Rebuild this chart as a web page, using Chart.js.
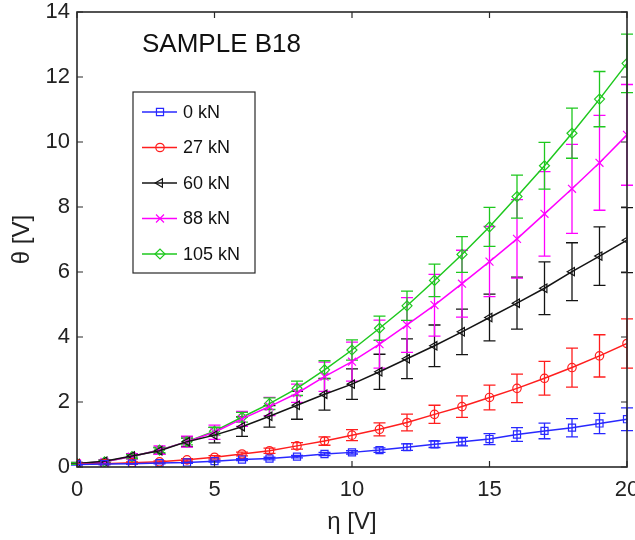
<!DOCTYPE html>
<html><head><meta charset="utf-8">
<script src="https://cdn.jsdelivr.net/npm/chart.js@4.4.1/dist/chart.umd.min.js"></script>
<style>html,body{margin:0;padding:0;background:#fff;}#wrap{width:635px;height:540px;}</style>
</head><body><div id="wrap"><canvas id="c" width="635" height="540"></canvas></div>
<script>
// ---- data ----
const eta = [0,1,2,3,4,5,6,7,8,9,10,11,12,13,14,15,16,17,18,19,20];
const seriesNames = ['0 kN','27 kN','60 kN','88 kN','105 kN'];
const theta0kN   = [0.08,0.09,0.10,0.12,0.14,0.18,0.23,0.26,0.32,0.40,0.45,0.52,0.61,0.70,0.78,0.86,1.00,1.11,1.21,1.34,1.47];
const err0kN     = [0.02,0.02,0.02,0.02,0.03,0.03,0.03,0.04,0.04,0.05,0.05,0.07,0.10,0.10,0.13,0.17,0.21,0.24,0.28,0.31,0.35];
const theta27kN  = [0.10,0.10,0.13,0.16,0.22,0.30,0.40,0.50,0.65,0.80,0.98,1.16,1.37,1.62,1.86,2.14,2.42,2.73,3.06,3.42,3.80];
const err27kN    = [0.02,0.02,0.03,0.03,0.04,0.05,0.06,0.08,0.10,0.13,0.17,0.20,0.26,0.28,0.33,0.38,0.44,0.52,0.60,0.65,0.76];
const theta60kN  = [0.11,0.18,0.34,0.50,0.78,0.98,1.24,1.56,1.90,2.24,2.55,2.93,3.33,3.73,4.16,4.60,5.04,5.50,6.01,6.49,6.98];
const err60kN    = [0.02,0.04,0.07,0.10,0.15,0.24,0.30,0.33,0.43,0.49,0.47,0.54,0.61,0.64,0.70,0.72,0.80,0.81,0.89,0.90,1.00];
const theta88kN  = [0.11,0.16,0.32,0.52,0.78,1.07,1.48,1.86,2.27,2.78,3.24,3.78,4.37,4.98,5.64,6.32,7.02,7.79,8.56,9.36,10.22];
const err88kN    = [0.03,0.05,0.08,0.13,0.17,0.22,0.23,0.28,0.28,0.45,0.60,0.74,0.84,0.95,1.03,1.08,1.21,1.30,1.37,1.46,1.55];
const theta105kN = [0.11,0.16,0.32,0.52,0.78,1.10,1.53,1.95,2.42,2.99,3.60,4.27,4.96,5.74,6.54,7.39,8.32,9.27,10.27,11.32,12.42];
const err105kN   = [0.03,0.04,0.06,0.08,0.10,0.12,0.15,0.18,0.22,0.28,0.31,0.37,0.45,0.50,0.55,0.60,0.66,0.72,0.77,0.85,0.90];
const xTicks = [0,5,10,15,20];
const yTicks = [0,2,4,6,8,10,12,14];
const titleText = 'SAMPLE B18';
const xLabel = 'η [V]';
const yLabel = 'θ [V]';

// ---- styles ----
const FONT = "'Liberation Sans', Arial, Helvetica, sans-serif";
const colors = ['rgb(40,40,255)','rgb(255,30,30)','rgb(20,20,20)','rgb(255,0,255)','rgb(30,200,30)'];
const markers = ['rect','circle','triangle','crossRot','rectRot'];
const rotations = [0,0,270,0,0];
const radii = [5,4.2,4.8,5.6,5];
const values = [theta0kN,theta27kN,theta60kN,theta88kN,theta105kN];
const errors = [err0kN,err27kN,err60kN,err88kN,err105kN];

const datasets = values.map((vals,i)=>({
  label: seriesNames[i],
  data: eta.map((x,j)=>({x:x,y:vals[j]})),
  borderColor: colors[i],
  backgroundColor: 'rgba(0,0,0,0)',
  pointBorderColor: colors[i],
  pointBackgroundColor: 'rgba(0,0,0,0)',
  pointStyle: markers[i],
  rotation: rotations[i],
  pointRadius: radii[i],
  pointBorderWidth: 1.2,
  borderWidth: 1.5,
  tension: 0,
  errors: errors[i]
}));

function drawMarker(ctx, style, x, y, r, rot, color){
  ctx.save();
  ctx.strokeStyle = color; ctx.lineWidth = 1.2; ctx.fillStyle='rgba(0,0,0,0)';
  Chart.helpers.drawPoint(ctx, {pointStyle: style, rotation: rot, radius: r, borderWidth: 1.2}, x, y);
  ctx.restore();
}

const deco = {
  id: 'deco',
  beforeDatasetsDraw(chart){
    const ctx = chart.ctx, xs = chart.scales.x, ys = chart.scales.y;
    chart.data.datasets.forEach((ds,i)=>{
      ctx.save();
      ctx.strokeStyle = colors[i]; ctx.lineWidth = 1.3;
      ds.data.forEach((p,j)=>{
        const e = ds.errors[j];
        const px = xs.getPixelForValue(p.x);
        const yt = ys.getPixelForValue(p.y + e);
        const yb = ys.getPixelForValue(p.y - e);
        ctx.beginPath();
        ctx.moveTo(px, yt); ctx.lineTo(px, yb);
        ctx.moveTo(px-6, yt); ctx.lineTo(px+6, yt);
        ctx.moveTo(px-6, yb); ctx.lineTo(px+6, yb);
        ctx.stroke();
      });
      ctx.restore();
    });
  },
  afterDraw(chart){
    const ctx = chart.ctx, a = chart.chartArea, xs = chart.scales.x, ys = chart.scales.y;
    ctx.save();
    // frame
    ctx.strokeStyle = 'rgb(40,40,40)'; ctx.lineWidth = 1.6;
    ctx.strokeRect(a.left, a.top, a.right - a.left, a.bottom - a.top);
    // inward ticks
    ctx.lineWidth = 1.2;
    ctx.beginPath();
    xTicks.forEach(v=>{ const px = xs.getPixelForValue(v);
      ctx.moveTo(px, a.bottom); ctx.lineTo(px, a.bottom-6);
      ctx.moveTo(px, a.top); ctx.lineTo(px, a.top+6); });
    yTicks.forEach(v=>{ const py = ys.getPixelForValue(v);
      ctx.moveTo(a.left, py); ctx.lineTo(a.left+6, py);
      ctx.moveTo(a.right, py); ctx.lineTo(a.right-6, py); });
    ctx.stroke();
    // title inside plot
    ctx.fillStyle = '#111';
    ctx.font = '26px ' + FONT;
    ctx.textBaseline = 'alphabetic'; ctx.textAlign = 'left';
    ctx.fillText(titleText, 142, 52);
    // legend
    const lx = 133, ly = 92, lw = 122, lh = 181;
    ctx.fillStyle = '#fff'; ctx.fillRect(lx, ly, lw, lh);
    ctx.strokeStyle = 'rgb(40,40,40)'; ctx.lineWidth = 1.2;
    ctx.strokeRect(lx, ly, lw, lh);
    ctx.font = '18px ' + FONT; ctx.textBaseline = 'middle';
    seriesNames.forEach((name,i)=>{
      const yy = 112 + i*35.5;
      ctx.strokeStyle = colors[i]; ctx.lineWidth = 1.5;
      ctx.beginPath(); ctx.moveTo(142, yy); ctx.lineTo(177, yy); ctx.stroke();
      drawMarker(ctx, markers[i], 160, yy, radii[i], rotations[i], colors[i]);
      ctx.fillStyle = '#111';
      ctx.fillText(name, 183, yy+1);
    });
    ctx.restore();
  }
};

new Chart(document.getElementById('c'), {
  type: 'line',
  data: { datasets: datasets },
  options: {
    responsive: false,
    animation: false,
    layout: { padding: { top: 12, right: 8, left: 0, bottom: 0 }, autoPadding: false },
    plugins: { legend: { display: false }, tooltip: { enabled: false } },
    scales: {
      x: {
        type: 'linear', min: 0, max: 20,
        grid: { display: false, drawTicks: false },
        border: { display: false },
        afterBuildTicks: s => { s.ticks = xTicks.map(v=>({value:v})); },
        ticks: { padding: 10, color: '#222', font: { size: 22, family: FONT } },
        title: { display: true, text: xLabel, color: '#222', padding: { top: 0, bottom: 3 }, font: { size: 24, family: FONT } },
        afterFit: s => { s.height = 73; s.paddingLeft = 0; s.paddingRight = 0; }
      },
      y: {
        type: 'linear', min: 0, max: 14,
        grid: { display: false, drawTicks: false },
        border: { display: false },
        afterBuildTicks: s => { s.ticks = yTicks.map(v=>({value:v})); },
        ticks: { padding: 7, color: '#222', font: { size: 22, family: FONT } },
        title: { display: true, text: yLabel, color: '#222', padding: { top: 8, bottom: 0 }, font: { size: 24, family: FONT } },
        afterFit: s => { s.width = 77; s.paddingTop = 0; s.paddingBottom = 0; }
      }
    }
  },
  plugins: [deco]
});
</script>
</body></html>
